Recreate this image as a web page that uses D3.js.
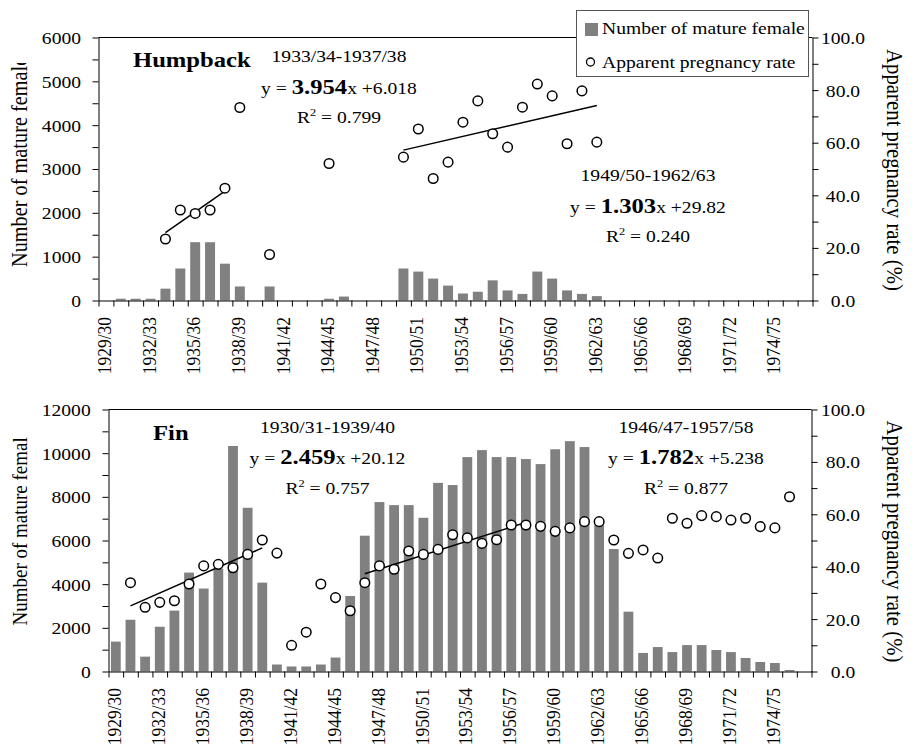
<!DOCTYPE html>
<html>
<head>
<meta charset="utf-8">
<script src="https://cdn.jsdelivr.net/npm/d3@7"></script>
<style>
  body { margin: 0; background: #fff; }
  text { font-family: "Liberation Serif", "Times New Roman", serif; fill: #000; }
</style>
</head>
<body>
<svg id="chart" width="912" height="753"></svg>
<script>
// Whaling seasons on the category axis
const seasons = [
  "1929/30","1930/31","1931/32","1932/33","1933/34","1934/35","1935/36","1936/37",
  "1937/38","1938/39","1939/40","1940/41","1941/42","1942/43","1943/44","1944/45",
  "1945/46","1946/47","1947/48","1948/49","1949/50","1950/51","1951/52","1952/53",
  "1953/54","1954/55","1955/56","1956/57","1957/58","1958/59","1959/60","1960/61",
  "1961/62","1962/63","1963/64","1964/65","1965/66","1966/67","1967/68","1968/69",
  "1969/70","1970/71","1971/72","1972/73","1973/74","1974/75","1975/76","1976/77"
];
const seasonTickLabels = [
  "1929/30","1932/33","1935/36","1938/39","1941/42","1944/45","1947/48","1950/51",
  "1953/54","1956/57","1959/60","1962/63","1965/66","1968/69","1971/72","1974/75"
];

// Humpback: number of mature females and apparent pregnancy rate (%)
const humpbackFemales = [
  null,40,40,40,270,730,1330,1330,840,320,null,320,null,null,null,40,
  90,null,null,null,730,660,500,340,160,200,460,230,150,660,500,230,
  150,100,null,null,null,null,null,null,null,null,null,null,null,null,null,null
];
const humpbackRate = [
  null,null,null,null,23.4,34.4,33.1,34.4,42.7,73.4,null,17.5,null,null,null,52.1,
  null,null,null,null,54.5,65.2,46.4,52.6,67.8,75.9,63.4,58.3,73.5,82.3,77.8,59.6,
  79.7,60.2,null,null,null,null,null,null,null,null,null,null,null,null,null,null
];

// Fin: number of mature females and apparent pregnancy rate (%)
const finFemales = [
  1370,2370,680,2050,2790,4530,3800,4700,10330,7500,4070,320,230,230,320,640,
  3460,6220,7760,7620,7620,7040,8640,8540,9820,10140,9820,9820,9730,9500,10180,10550,
  10280,6700,5610,2740,850,1120,890,1210,1210,985,890,620,435,390,70,null
];
const finRate = [
  null,33.9,24.5,26.4,27.0,33.4,40.3,40.9,39.6,44.7,50.2,45.2,10.0,15.0,33.4,28.2,
  23.2,33.9,40.3,39.0,46.0,44.7,46.6,52.2,51.0,48.9,50.3,55.9,55.9,55.4,53.5,54.8,
  57.2,57.2,50.2,45.1,46.4,43.3,58.5,56.6,59.5,59.1,57.8,58.5,55.3,54.8,66.7,null
];

// Linear fits of pregnancy rate; x = season number (1929/30 = 1)
const humpbackFits = [
  { from: "1933/34", to: "1937/38", slope: 3.954, intercept: 6.018, r2: 0.799 },
  { from: "1949/50", to: "1962/63", slope: 1.303, intercept: 29.82, r2: 0.240 }
];
const finFits = [
  { from: "1930/31", to: "1939/40", slope: 2.459, intercept: 20.12, r2: 0.757 },
  { from: "1946/47", to: "1957/58", slope: 1.782, intercept: 5.238, r2: 0.877 }
];

const leftTitle = "Number of mature female";
const rightTitle = "Apparent pregnancy rate (%)";
const legendLabels = ["Number of mature female", "Apparent pregnancy rate"];

// ---- drawing ----
const svg = d3.select("#chart");
const SX = 1.12;      // glyphs are drawn slightly wide
const FS = 17.5;      // base font size
const BAR = "#808080";

function txt(parent, x, y, rot) {
  return parent.append("text")
    .attr("transform", `translate(${x},${y}) scale(${SX},1)` + (rot ? ` rotate(${rot})` : ""))
    .attr("font-size", FS);
}

function drawPanel(cfg) {
  const g = svg.append("g");
  const x = d3.scaleBand().domain(seasons).range([cfg.left, cfg.right])
    .paddingInner(0.33).paddingOuter(0.165);
  const xEdge = d3.scaleLinear().domain([0, seasons.length]).range([cfg.left, cfg.right]);
  const yL = d3.scaleLinear().domain([0, cfg.max]).range([cfg.bottom, cfg.top]);
  const yR = d3.scaleLinear().domain([0, 100]).range([cfg.bottom, cfg.top]);
  const cx = s => x(s) + x.bandwidth() / 2;

  // top edge of plot area
  g.append("line")
    .attr("x1", cfg.left).attr("x2", cfg.right)
    .attr("y1", cfg.top).attr("y2", cfg.top)
    .attr("stroke", "#000");

  // bars: mature females
  g.append("g").selectAll("rect")
    .data(seasons.map((s, i) => ({ s, v: cfg.females[i] })).filter(d => d.v != null))
    .join("rect")
    .attr("x", d => x(d.s)).attr("width", x.bandwidth())
    .attr("y", d => yL(d.v)).attr("height", d => yL(0) - yL(d.v))
    .attr("fill", BAR);

  // regression lines
  cfg.fits.forEach(f => {
    const ends = [seasons.indexOf(f.from), seasons.indexOf(f.to)];
    const pts = ends.map(i => [cx(seasons[i]), yR(f.slope * (i + 1) + f.intercept)]);
    g.append("path").attr("d", d3.line()(pts))
      .attr("fill", "none").attr("stroke", "#000").attr("stroke-width", 1.5);
  });

  // pregnancy rate markers
  g.append("g").selectAll("circle")
    .data(seasons.map((s, i) => ({ s, v: cfg.rate[i] })).filter(d => d.v != null))
    .join("circle")
    .attr("cx", d => cx(d.s)).attr("cy", d => yR(d.v)).attr("r", 4.8)
    .attr("fill", "#fff").attr("stroke", "#000").attr("stroke-width", 1.5);

  // x axis: ticks on season boundaries
  g.append("g").attr("transform", `translate(0,${cfg.bottom})`)
    .call(d3.axisBottom(xEdge).tickValues(d3.range(seasons.length + 1))
      .tickSize(6).tickSizeOuter(0).tickFormat(""));
  seasonTickLabels.forEach(s => {
    txt(g, cx(s) - 1.5, cfg.bottom + 16.5, -90)
      .attr("text-anchor", "end").attr("dy", "0.34em").text(s);
  });

  // left axis
  const la = g.append("g").attr("transform", `translate(${cfg.left},0)`)
    .call(d3.axisLeft(yL).tickValues(d3.range(0, cfg.max + 1, cfg.minor))
      .tickSize(6).tickSizeOuter(0)
      .tickFormat(d => d % cfg.major === 0 ? d : ""));
  la.selectAll("text").attr("x", null).attr("dy", "0.34em")
    .attr("font-family", null).attr("font-size", FS)
    .attr("transform", `translate(${-cfg.leftLabelGap},0) scale(${SX},1)`);

  // right axis
  const ra = g.append("g").attr("transform", `translate(${cfg.right},0)`)
    .call(d3.axisRight(yR).tickValues(d3.range(0, 101, 10))
      .tickSize(6).tickSizeOuter(0)
      .tickFormat(d => d % 20 === 0 ? d.toFixed(1) : ""));
  ra.selectAll("text").attr("x", null).attr("dy", "0.34em")
    .attr("text-anchor", "middle")
    .attr("font-family", null).attr("font-size", FS)
    .attr("transform", `translate(${cfg.rightLabelGap},0) scale(${SX},1)`);
  la.attr("font-family", null);
  ra.attr("font-family", null);

  // axis titles (the left one is cut off at the top of its box)
  const clipId = "clip-" + cfg.name;
  svg.append("clipPath").attr("id", clipId).append("rect")
    .attr("x", 0).attr("y", cfg.leftTitleClip).attr("width", 60).attr("height", 400);
  txt(g.append("g").attr("clip-path", `url(#${clipId})`), 27, cfg.leftTitleStart, -90)
    .attr("font-size", cfg.leftTitleSize).attr("text-anchor", "start").text(leftTitle);
  txt(g, 886.5, (cfg.top + cfg.bottom) / 2 + 1, 90)
    .attr("font-size", 20.8).attr("text-anchor", "middle").text(rightTitle);

  // species name
  txt(g, cfg.nameX, cfg.nameY).attr("font-size", 22).attr("font-weight", "bold").text(cfg.name);

  // fit annotations
  cfg.fits.forEach((f, k) => {
    const p = cfg.notes[k];
    txt(g, p.x, p.y).attr("text-anchor", "middle").text(`${f.from}-${f.to}`);
    const eq = txt(g, p.x, p.y + 31.5).attr("text-anchor", "middle");
    eq.append("tspan").text("y = ");
    eq.append("tspan").attr("font-weight", "bold").attr("font-size", 22).text(f.slope.toFixed(3));
    eq.append("tspan").text("x +" + f.intercept);
    const r = txt(g, p.x, p.y + 61).attr("text-anchor", "middle");
    r.append("tspan").text("R");
    r.append("tspan").attr("font-size", 11).attr("dy", -7).text("2");
    r.append("tspan").attr("dy", 7).text(" = " + f.r2.toFixed(3));
  });
  return g;
}

drawPanel({
  name: "Humpback", females: humpbackFemales, rate: humpbackRate, fits: humpbackFits,
  left: 98.5, right: 812.5, top: 37.5, bottom: 300.5, max: 6000, minor: 500, major: 1000,
  leftLabelGap: 17.5, rightLabelGap: 30.5,
  leftTitleStart: 267, leftTitleClip: 63, leftTitleSize: 20.3,
  nameX: 133, nameY: 67,
  notes: [{ x: 339, y: 62 }, { x: 648, y: 181 }]
});

drawPanel({
  name: "Fin", females: finFemales, rate: finRate, fits: finFits,
  left: 108.5, right: 811.5, top: 409.5, bottom: 671.5, max: 12000, minor: 1000, major: 2000,
  leftLabelGap: 17.8, rightLabelGap: 31.5,
  leftTitleStart: 625.5, leftTitleClip: 437, leftTitleSize: 19,
  nameX: 153, nameY: 440,
  notes: [{ x: 327.5, y: 432.5 }, { x: 686, y: 432.5 }]
});

// legend (top panel)
const lg = svg.append("g");
lg.append("rect").attr("x", 576.5).attr("y", 10.5).attr("width", 232).attr("height", 66)
  .attr("fill", "#fff").attr("stroke", "#555").attr("stroke-width", 1);
lg.append("rect").attr("x", 585).attr("y", 23).attr("width", 13).attr("height", 13).attr("fill", BAR);
txt(lg, 602, 34).text(legendLabels[0]);
lg.append("circle").attr("cx", 590.5).attr("cy", 62).attr("r", 4)
  .attr("fill", "#fff").attr("stroke", "#000").attr("stroke-width", 1.3);
txt(lg, 602, 67.5).text(legendLabels[1]);
</script>
</body>
</html>
